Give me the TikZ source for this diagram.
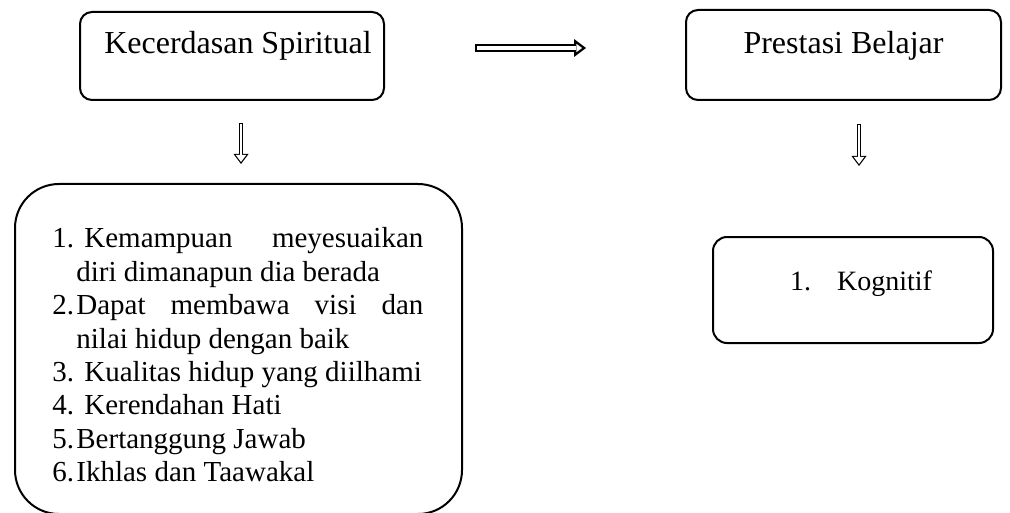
\documentclass[tikz,border=0pt]{standalone}
\usepackage{fontspec}
\setmainfont{Liberation Serif}
\usepackage{tikz}
\usetikzlibrary{arrows}
\usetikzlibrary{arrows.meta}
\usetikzlibrary{positioning, calc}

\newcommand{\butir}[2]{\par\noindent\hangindent=12pt\hangafter=1\makebox[12pt][l]{#1}#2\par}

\begin{document}
\begin{tikzpicture}[x=0.5pt,y=-0.5pt]
\useasboundingbox (0,0) rectangle (1010,513);
\begin{scope}[every node/.style={rectangle,rounded corners=6pt,line width=1pt,draw,inner sep=0pt,
                                 font=\fontsize{16}{19}\selectfont}]
    \node[minimum width=152pt,minimum height=44pt,text height=21pt,text depth=23pt] (spiritual) at (232,56) {\hspace{6pt}Kecerdasan Spiritual};
    \node[minimum width=157.5pt,minimum height=45pt,text height=22pt,text depth=23pt] (prestasi) at (843.5,55) {Prestasi Belajar};
    \node[rounded corners=22pt,minimum width=223.5pt,minimum height=165pt] (indikator) at (238.5,349) {};
    \node[rounded corners=7pt,minimum width=140pt,minimum height=53pt,text height=26.5pt,text depth=26.5pt,
          font=\fontsize{14}{17}\selectfont] (kognitif) at (853,290) {\hspace{8pt}1.\hspace{13pt}Kognitif};
\end{scope}

\node[anchor=north west,inner sep=0pt,text width=185.5pt,align=justify,
      font=\fontsize{14.5}{16.7}\selectfont] (daftar) at ([shift={(19pt,-15.5pt)}]indikator.north west)
    {\hyphenpenalty=10000\emergencystretch=10pt
     \butir{1.}{\hspace{4pt}Kemampuan meyesuaikan\linebreak diri dimanapun dia berada}
     \butir{2.}{Dapat membawa visi dan\linebreak nilai hidup dengan baik}
     \butir{3.}{\hspace{4pt}Kualitas hidup yang diilhami}
     \butir{4.}{\hspace{4pt}Kerendahan Hati}
     \butir{5.}{Bertanggung Jawab}
     \butir{6.}{Ikhlas dan Taawakal}};

% outlined block arrows: black body, white inside
\begin{scope}[every edge/.style={draw=black},
              kananluar/.style={line width=4pt,-{Triangle[length=6pt,width=9pt,line width=0pt]}},
              kanandalam/.style={draw=white,line width=1.6pt,-{Triangle[length=2.8pt,width=4.2pt,line width=0pt]}},
              bawahluar/.style={line width=2.2pt,-{Triangle[length=5pt,width=7.5pt,line width=0pt]}},
              bawahdalam/.style={draw=white,line width=1pt,-{Triangle[length=3.5pt,width=5.2pt,line width=0pt]}}]
    \path ([yshift=4pt]spiritual.east)
        edge[kananluar,shorten <=45pt,shorten >=49.5pt] ([yshift=4pt]spiritual.east -| prestasi.west)
        edge[kanandalam,shorten <=46.2pt,shorten >=51.5pt] ([yshift=4pt]spiritual.east -| prestasi.west);
    \path ([xshift=4.5pt]spiritual.south)
        edge[bawahluar,shorten <=11pt,shorten >=9.5pt] ([xshift=4.5pt]spiritual.south |- indikator.north)
        edge[bawahdalam,shorten <=11.6pt,shorten >=10.5pt] ([xshift=4.5pt]spiritual.south |- indikator.north);
    \path ([xshift=7.75pt]prestasi.south)
        edge[bawahluar,shorten <=11.5pt,shorten >=35pt] ([xshift=7.75pt]prestasi.south |- kognitif.north)
        edge[bawahdalam,shorten <=12.1pt,shorten >=36pt] ([xshift=7.75pt]prestasi.south |- kognitif.north);
\end{scope}
\end{tikzpicture}
\end{document}
